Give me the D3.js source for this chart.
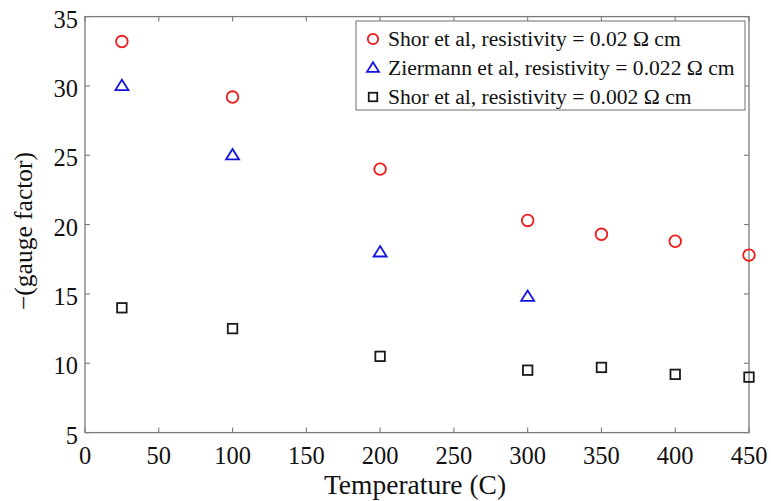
<!DOCTYPE html>
<html>
<head>
<meta charset="utf-8">
<script src="https://cdn.jsdelivr.net/npm/d3@7"></script>
<style>
  html, body { margin: 0; padding: 0; background: #fff; }
  svg { display: block; }
  text { font-family: "Liberation Serif", "Times New Roman", serif; fill: #111; }
</style>
</head>
<body>
<svg id="chart" width="771" height="501"></svg>
<script>
// Temperatures (C) and gauge factor magnitudes for each data set
const tempShor = [25, 100, 200, 300, 350, 400, 450];
const gfShor002 = [33.2, 29.2, 24.0, 20.3, 19.3, 18.8, 17.8];
const tempZiermann = [25, 100, 200, 300];
const gfZiermann = [30.0, 25.0, 18.0, 14.8];
const gfShor0002 = [14.0, 12.5, 10.5, 9.5, 9.7, 9.2, 9.0];

const xTicks = [0, 50, 100, 150, 200, 250, 300, 350, 400, 450];
const yTicks = [5, 10, 15, 20, 25, 30, 35];

const seriesNames = [
  "Shor et al, resistivity = 0.02 \u03A9 cm",
  "Ziermann et al, resistivity = 0.022 \u03A9 cm",
  "Shor et al, resistivity = 0.002 \u03A9 cm"
];

const svg = d3.select("#chart");
const plotL = 85, plotR = 749, plotT = 16.6, plotB = 432.6;
const axisColor = "#7a7a7a";

const x = d3.scaleLinear().domain([0, 450]).range([plotL, plotR]);
const y = d3.scaleLinear().domain([5, 35]).range([plotB, plotT]);

// Box around the plot area
svg.append("rect")
  .attr("x", plotL).attr("y", plotT)
  .attr("width", plotR - plotL).attr("height", plotB - plotT)
  .attr("fill", "none").attr("stroke", axisColor).attr("stroke-width", 1.3);

// Inward ticks on all four sides
const tickLen = 5;
const g = svg.append("g").attr("stroke", axisColor).attr("stroke-width", 1.1);
xTicks.forEach(t => {
  g.append("line").attr("x1", x(t)).attr("x2", x(t)).attr("y1", plotB).attr("y2", plotB - tickLen);
  g.append("line").attr("x1", x(t)).attr("x2", x(t)).attr("y1", plotT).attr("y2", plotT + tickLen);
});
yTicks.forEach(t => {
  g.append("line").attr("x1", plotL).attr("x2", plotL + tickLen).attr("y1", y(t)).attr("y2", y(t));
  g.append("line").attr("x1", plotR).attr("x2", plotR - tickLen).attr("y1", y(t)).attr("y2", y(t));
});

// Tick labels
svg.append("g").selectAll("text").data(xTicks).join("text")
  .attr("x", d => x(d)).attr("y", 464)
  .attr("text-anchor", "middle").attr("font-size", 24.5)
  .text(d => d);
svg.append("g").selectAll("text").data(yTicks).join("text")
  .attr("x", 78).attr("y", d => y(d) + 11)
  .attr("text-anchor", "end").attr("font-size", 24.5)
  .text(d => d);

// Axis titles
svg.append("text")
  .attr("x", 415).attr("y", 494)
  .attr("text-anchor", "middle").attr("font-size", 27.5)
  .text("Temperature (C)");
svg.append("text")
  .attr("transform", "translate(32,231) rotate(-90)")
  .attr("text-anchor", "middle").attr("font-size", 25.5)
  .text("\u2212(gauge factor)");

// Marker shapes
const red = "#f01818", blue = "#1515e0", black = "#1a1a1a";
function circleMark(sel, r) {
  sel.append("circle").attr("r", r).attr("fill", "none").attr("stroke", red).attr("stroke-width", 1.8);
}
function triangleMark(sel, s) {
  const h = s * 0.8;
  sel.append("path")
    .attr("d", `M0,${-h * 0.6}L${s / 2},${h * 0.4}L${-s / 2},${h * 0.4}Z`)
    .attr("fill", "none").attr("stroke", blue).attr("stroke-width", 1.8).attr("stroke-linejoin", "miter");
}
function squareMark(sel, s) {
  sel.append("rect").attr("x", -s / 2).attr("y", -s / 2).attr("width", s).attr("height", s)
    .attr("fill", "none").attr("stroke", black).attr("stroke-width", 1.8);
}

const pts = svg.append("g");
tempShor.forEach((t, i) => {
  pts.append("g").attr("transform", `translate(${x(t)},${y(gfShor002[i])})`).call(circleMark, 5.8);
});
tempZiermann.forEach((t, i) => {
  pts.append("g").attr("transform", `translate(${x(t)},${y(gfZiermann[i])})`).call(triangleMark, 13);
});
tempShor.forEach((t, i) => {
  pts.append("g").attr("transform", `translate(${x(t)},${y(gfShor0002[i])})`).call(squareMark, 9.5);
});

// Legend
const lg = svg.append("g");
lg.append("rect").attr("x", 356).attr("y", 21).attr("width", 389).attr("height", 89)
  .attr("fill", "#fff").attr("stroke", axisColor).attr("stroke-width", 1.1);
const rowY = [39, 68, 97];
const markers = [s => circleMark(s, 5.2), s => triangleMark(s, 12), s => squareMark(s, 8.5)];
seriesNames.forEach((name, i) => {
  lg.append("g").attr("transform", `translate(373,${rowY[i]})`).call(markers[i]);
  lg.append("text").attr("x", 388).attr("y", rowY[i] + 7)
    .attr("font-size", 21.6).text(name);
});
</script>
</body>
</html>
